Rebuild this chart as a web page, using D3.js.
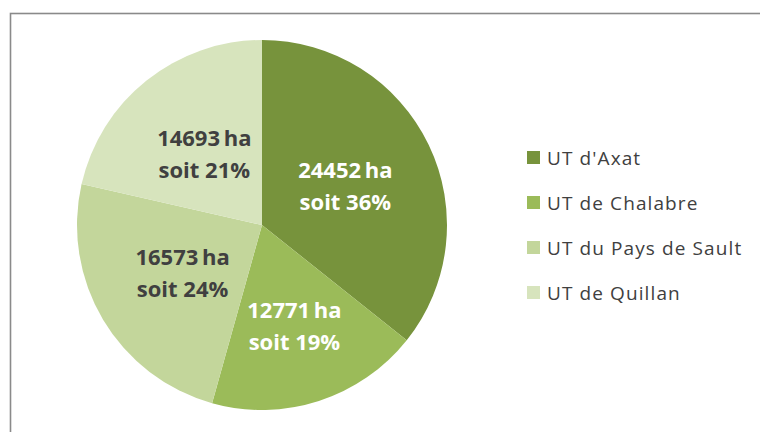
<!DOCTYPE html>
<html>
<head>
<meta charset="UTF-8">
<title></title>
<script src="https://cdn.jsdelivr.net/npm/d3@7/dist/d3.min.js"></script>
<style>
  body { margin: 0; background: #fff; }
  text { font-family: "Open Sans", sans-serif; }
</style>
</head>
<body>
<svg width="760" height="432"></svg>
<script>
// données : surface par UT (ha)
var categories = ["UT d'Axat", "UT de Chalabre", "UT du Pays de Sault", "UT de Quillan"];
var surfaces = [24452, 12771, 16573, 14693];
var percents = [36, 19, 24, 21];
var colors = ["#77933c", "#9bbb59", "#c3d69b", "#d7e4bd"];
var labelColors = ["#ffffff", "#ffffff", "#404040", "#404040"];

var width = 760, height = 432;
var svg = d3.select("svg");

// cadre du graphique
svg.append("rect")
    .attr("x", 10.5).attr("y", 13.5)
    .attr("width", 900).attr("height", 600)
    .attr("fill", "none")
    .attr("stroke", "#8a8a8a")
    .attr("stroke-width", 1.6);

var cx = 262, cy = 225, radius = 185;

var pie = d3.pie().sort(null).value(function(d){ return d; });
var arcs = pie(surfaces);
var arc = d3.arc().innerRadius(0).outerRadius(radius);

// position des étiquettes (la petite part est poussée vers l'extérieur, comme Excel)
function labelPos(d, i) {
    var k = (i === 1) ? 1.14 : 1;
    var c = d3.arc().innerRadius(0).outerRadius(radius * k).centroid(d);
    return "translate(" + c[0] + "," + c[1] + ")";
}

var g = svg.append("g").attr("transform", "translate(" + cx + "," + cy + ")");

g.selectAll("path")
    .data(arcs)
    .enter()
    .append("path")
    .attr("d", arc)
    .attr("fill", function(d, i){ return colors[i]; });

// étiquettes
var labels = g.selectAll("text.lbl")
    .data(arcs)
    .enter()
    .append("text")
    .attr("class", "lbl")
    .attr("text-anchor", "middle")
    .attr("font-size", 22)
    .attr("font-weight", "bold")
    .attr("fill", function(d, i){ return labelColors[i]; })
    .attr("transform", labelPos);
labels.append("tspan")
    .attr("x", 0).attr("y", -7)
    .text(function(d, i){ return surfaces[i] + "\u2009ha"; });
labels.append("tspan")
    .attr("x", 0).attr("y", 25)
    .text(function(d, i){ return "soit " + percents[i] + "%"; });

// légende
var legend = svg.append("g").attr("transform", "translate(527,151)");
var rows = legend.selectAll("g")
    .data(categories)
    .enter()
    .append("g")
    .attr("transform", function(d, i){ return "translate(0," + (i * 45) + ")"; });
rows.append("rect")
    .attr("width", 13).attr("height", 13)
    .attr("fill", function(d, i){ return colors[i]; });
rows.append("text")
    .attr("x", 20).attr("y", 13.5)
    .attr("font-size", 19)
    .attr("letter-spacing", 1.1)
    .attr("fill", "#404040")
    .text(function(d){ return d; });
</script>
</body>
</html>
